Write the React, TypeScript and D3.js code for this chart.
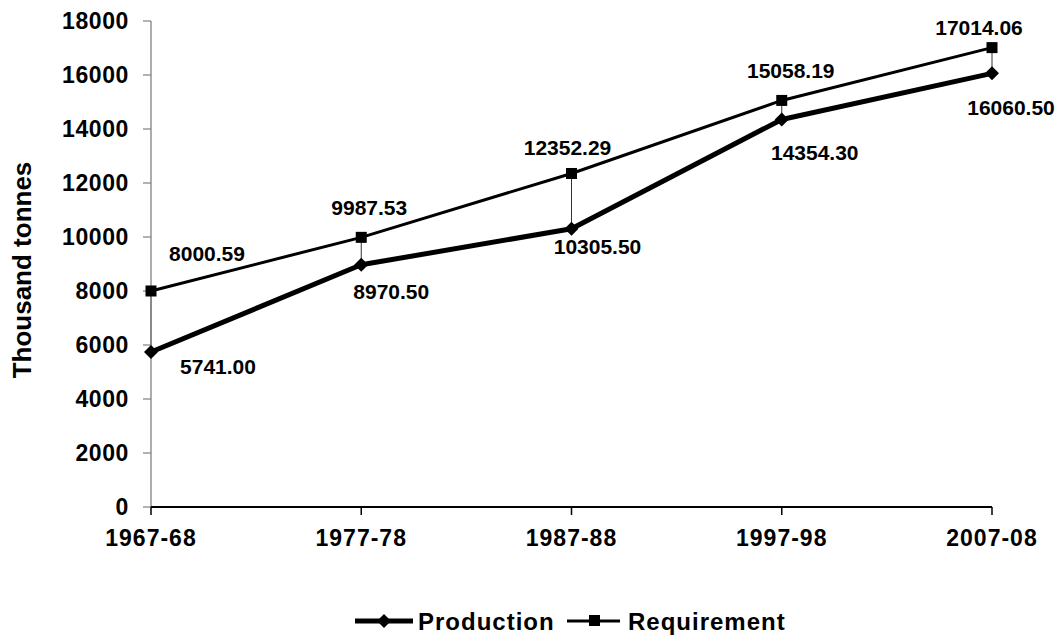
import React from "react";
import * as d3 from "d3";

const categories = ["1967-68", "1977-78", "1987-88", "1997-98", "2007-08"];
const production = [5741.0, 8970.5, 10305.5, 14354.3, 16060.5];
const requirement = [8000.59, 9987.53, 12352.29, 15058.19, 17014.06];
const yTicks = [0, 2000, 4000, 6000, 8000, 10000, 12000, 14000, 16000, 18000];

const prodLabelOffsets: [number, number][] = [[67, 15], [30, 27], [26, 18], [33, 33], [19, 34]];
const reqLabelOffsets: [number, number][] = [[56, -37], [8, -30], [-4, -26], [9, -30], [-13, -20]];

const W = 1060;
const H = 639;
const FONT = "'Liberation Sans', Arial, sans-serif";

export default function App() {
  const x = d3.scalePoint<string>().domain(categories).range([151, 992]);
  const y = d3.scaleLinear().domain([0, 18000]).range([507, 21]);
  const line = d3.line<number>().x((_, i) => x(categories[i])!).y((v) => y(v));

  const diamond = (cx: number, cy: number, r: number) =>
    `M${cx},${cy - r}L${cx + r},${cy}L${cx},${cy + r}L${cx - r},${cy}Z`;

  return (
    <svg width={W} height={H} style={{ position: "absolute", left: 0, top: 0, background: "#fff" }}>
      <rect width={W} height={H} fill="#fff" />
      {/* high-low lines */}
      {categories.map((c, i) => (
        <line key={c} x1={x(c)} x2={x(c)} y1={y(requirement[i])} y2={y(production[i])} stroke="#000" strokeWidth={0.8} />
      ))}
      {/* y axis */}
      <line x1={151} x2={151} y1={y(18000)} y2={y(0)} stroke="#808080" strokeWidth={1.3} />
      {yTicks.map((t) => (
        <g key={t}>
          <line x1={143} x2={151} y1={y(t)} y2={y(t)} stroke="#808080" strokeWidth={1.2} />
          <text x={129} y={y(t)} textAnchor="end" dominantBaseline="central" fontFamily={FONT} fontWeight="bold" fontSize={23} letterSpacing={0.6} fill="#000">
            {t}
          </text>
        </g>
      ))}
      {/* x axis */}
      <line x1={151} x2={992} y1={y(0)} y2={y(0)} stroke="#000" strokeWidth={2} />
      {categories.map((c) => (
        <g key={c}>
          <line x1={x(c)} x2={x(c)} y1={y(0)} y2={y(0) + 8} stroke="#000" strokeWidth={1.5} />
          <text x={x(c)} y={538} textAnchor="middle" dominantBaseline="central" fontFamily={FONT} fontWeight="bold" fontSize={23} letterSpacing={1} fill="#000">
            {c}
          </text>
        </g>
      ))}
      {/* y title */}
      <text transform="translate(22,270) rotate(-90)" textAnchor="middle" dominantBaseline="central" fontFamily={FONT} fontWeight="bold" fontSize={26} fill="#000">
        Thousand tonnes
      </text>
      {/* requirement */}
      <path d={line(requirement)!} fill="none" stroke="#000" strokeWidth={3} />
      {requirement.map((v, i) => (
        <rect key={i} x={x(categories[i])! - 5.5} y={y(v) - 5.5} width={11} height={11} fill="#000" />
      ))}
      {/* production */}
      <path d={line(production)!} fill="none" stroke="#000" strokeWidth={5} strokeLinejoin="round" />
      {production.map((v, i) => (
        <path key={i} d={diamond(x(categories[i])!, y(v), 7)} fill="#000" />
      ))}
      {/* labels */}
      {requirement.map((v, i) => (
        <text key={"r" + i} x={x(categories[i])! + reqLabelOffsets[i][0]} y={y(v) + reqLabelOffsets[i][1]} textAnchor="middle" dominantBaseline="central" fontFamily={FONT} fontWeight="bold" fontSize={21} fill="#000">
          {v.toFixed(2)}
        </text>
      ))}
      {production.map((v, i) => (
        <text key={"p" + i} x={x(categories[i])! + prodLabelOffsets[i][0]} y={y(v) + prodLabelOffsets[i][1]} textAnchor="middle" dominantBaseline="central" fontFamily={FONT} fontWeight="bold" fontSize={21} fill="#000">
          {v.toFixed(2)}
        </text>
      ))}
      {/* legend */}
      <g>
        <line x1={355} x2={413} y1={621} y2={621} stroke="#000" strokeWidth={5} />
        <path d={diamond(384, 621, 7)} fill="#000" />
        <text x={418} y={621} dominantBaseline="central" fontFamily={FONT} fontWeight="bold" fontSize={24} letterSpacing={1} fill="#000">
          Production
        </text>
        <line x1={567} x2={620} y1={621} y2={621} stroke="#000" strokeWidth={3} />
        <rect x={589} y={615} width={11} height={11} fill="#000" />
        <text x={628} y={621} dominantBaseline="central" fontFamily={FONT} fontWeight="bold" fontSize={24} letterSpacing={1} fill="#000">
          Requirement
        </text>
      </g>
    </svg>
  );
}
